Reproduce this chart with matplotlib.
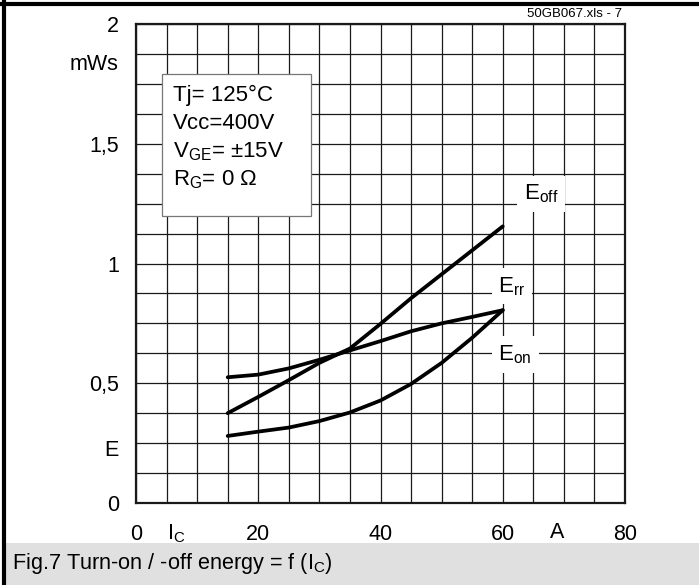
import matplotlib
matplotlib.use("Agg")
import matplotlib.pyplot as plt
from matplotlib.patches import Rectangle
from matplotlib.lines import Line2D
import numpy as np

plt.rcParams['font.family'] = ['Liberation Sans', 'DejaVu Sans']
plt.rcParams['mathtext.fontset'] = 'custom'
plt.rcParams['mathtext.rm'] = 'Liberation Sans'
plt.rcParams['mathtext.it'] = 'Liberation Sans'
plt.rcParams['mathtext.default'] = 'rm'

# collector current (A) and switching energies (mWs)
ic = [15, 20, 25, 30, 35, 40, 45, 50, 55, 60]
e_off = [0.375, 0.443, 0.513, 0.585, 0.645, 0.748, 0.855, 0.955, 1.055, 1.155]
e_rr = [0.525, 0.536, 0.562, 0.598, 0.637, 0.676, 0.717, 0.75, 0.777, 0.805]
e_on = [0.28, 0.298, 0.315, 0.342, 0.378, 0.428, 0.497, 0.585, 0.69, 0.805]

x_ticks = [0, 20, 40, 60, 80]
x_labels = ["0", "20", "40", "60", "80"]
y_ticks = [0, 0.5, 1, 1.5, 2]
y_labels = ["0", "0,5", "1", "1,5", "2"]

conditions = ["Tj= 125°C", "Vcc=400V", r"V$_{GE}$= ±15V", r"R$_{G}$= 0 Ω"]

fs = 15.5

fig = plt.figure(figsize=(6.99, 5.85), dpi=100)
ax = fig.add_axes([136/699, 1-503/585, 489/699, 479/585])

for e in (e_off, e_rr, e_on):
    ax.plot(ic, e, color='black', lw=2.7, solid_capstyle='round', solid_joinstyle='round', zorder=4)

ax.set_xlim(0, 80)
ax.set_ylim(0, 2)
ax.set_xticks(np.arange(0, 81, 5), minor=True)
ax.set_yticks(np.arange(0, 2.001, 0.125), minor=True)
ax.set_xticks(x_ticks)
ax.set_xticklabels(x_labels, fontsize=fs)
ax.set_yticks(y_ticks)
ax.set_yticklabels(y_labels, fontsize=fs)
ax.tick_params(which='both', length=0)
ax.tick_params(axis='x', pad=14.8)
ax.tick_params(axis='y', pad=12)
ax.grid(which='both', color='#1a1a1a', lw=0.9)
ax.set_axisbelow(True)
for s in ax.spines.values():
    s.set_linewidth(1.6)
    s.set_color('#1a1a1a')

# extra axis captions
ax.text(-2.8, 1.83, "mWs", ha='right', va='center', fontsize=fs)
ax.text(-2.8, 0.22, "E", ha='right', va='center', fontsize=fs)
ax.text(5.0, -0.13, r"I$_{C}$", ha='left', va='center', fontsize=fs, clip_on=False)
ax.text(68.9, -0.125, "A", ha='center', va='center', fontsize=fs, clip_on=False)

# conditions box
ax.add_patch(Rectangle((4.25, 1.2), 24.4, 0.59, facecolor='white', edgecolor='#777777', lw=0.9, zorder=3))
for i, t in enumerate(conditions):
    ax.text(6.0, 1.70 - i * 0.117, t, ha='left', va='center', fontsize=16, zorder=5)

# curve labels
lbl_box = dict(facecolor='white', edgecolor='none', pad=5)
ax.text(63.5, 1.29, r"E$_{off}$", fontsize=16, va='center', bbox=lbl_box, zorder=5)
ax.text(59.3, 0.905, r"E$_{rr}$", fontsize=16, va='center', bbox=lbl_box, zorder=5)
ax.text(59.3, 0.62, r"E$_{on}$", fontsize=16, va='center', bbox=lbl_box, zorder=5)

fig.text(622/699, 1-14/585, "50GB067.xls - 7", ha='right', va='center', fontsize=9.5)

# frame and caption bar
fig.add_artist(Rectangle((5/699, 0), 694/699, 42/585, transform=fig.transFigure,
                         facecolor='#e0e0e0', edgecolor='none', zorder=-1))
fig.add_artist(Line2D([0, 1], [1-3.5/585, 1-3.5/585], transform=fig.transFigure, color='black', lw=3))
fig.add_artist(Line2D([3.5/699, 3.5/699], [0, 1], transform=fig.transFigure, color='black', lw=3))
fig.text(12/699, 1-563/585, r"Fig.7 Turn-on / -off energy = f (I$_{C}$)", ha='left', va='center', fontsize=15.6)

fig.savefig("out.png", dpi=100)
